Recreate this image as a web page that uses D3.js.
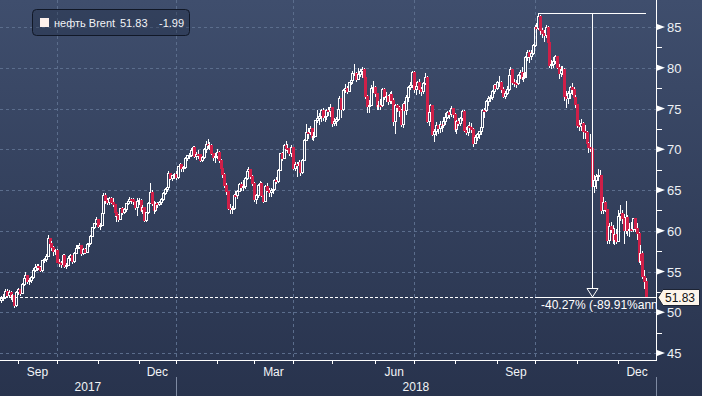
<!DOCTYPE html>
<html>
<head>
<meta charset="utf-8">
<script src="https://cdn.jsdelivr.net/npm/d3@7"></script>
<style>
html, body { margin: 0; padding: 0; background: #2e3b57; }
svg { display: block; font-family: "Liberation Sans", Arial, sans-serif; }
</style>
</head>
<body>
<svg id="chart" width="702" height="396"></svg>
<script>
// Brent daily candles, trading days from 21 Aug 2017 to 24 Dec 2018
var startDate = new Date(2017, 7, 21);
var endDate = new Date(2018, 11, 25);
var holidays = ['2017-12-25', '2018-01-01', '2018-03-30'];

var opens = [
  51.45,51.66,51.87,52.57,52.04,52.41,51.89,52.00,50.86,
  52.38,52.75,52.34,53.38,54.20,54.49,53.78,53.84,54.27,55.16,55.47,55.62,55.48,55.14,56.29,56.43,56.86,59.02,58.44,57.90,57.41,
  57.54,56.12,55.94,55.80,57.00,55.62,55.79,56.61,56.94,56.25,57.17,57.82,58.00,58.15,57.24,57.75,57.37,58.33,58.44,59.30,60.44,60.90,
  61.37,60.49,60.62,62.07,64.27,63.69,63.49,63.93,63.52,63.16,62.21,61.87,61.36,62.72,62.22,62.57,63.32,63.55,63.86,63.84,63.61,62.84,
  63.57,63.73,62.45,62.86,61.22,62.20,63.40,64.69,63.34,62.44,63.31,63.23,63.42,63.80,64.56,65.02,65.25,67.02,66.44,66.72,
  66.87,66.57,67.84,68.07,67.62,67.78,68.82,69.20,69.26,69.87,70.26,69.15,69.38,69.31,68.61,69.03,69.96,70.53,70.42,70.52,69.46,69.02,
  69.05,69.65,68.58,67.62,66.86,65.51,64.81,62.79,62.59,62.72,64.36,64.33,64.84,65.67,65.25,65.42,66.39,67.31,67.50,66.63,
  65.78,63.83,64.37,65.54,65.79,64.34,63.61,65.49,64.95,64.64,64.89,65.12,66.21,66.05,67.42,69.47,68.91,70.45,70.12,70.11,69.53,
  70.27,67.64,68.12,68.02,68.33,67.11,68.65,71.04,72.06,72.02,72.58,71.42,71.58,73.48,73.78,74.06,74.71,73.86,74.00,74.74,74.64,
  75.17,73.13,73.36,73.62,74.87,76.17,74.85,77.21,77.47,77.12,78.23,78.43,79.28,79.30,78.51,79.22,79.57,79.80,78.79,76.44,75.30,75.39,77.50,
  77.59,76.79,75.29,75.38,75.36,77.32,76.46,76.46,75.88,76.74,75.94,73.44,75.34,75.08,74.74,73.05,75.55,74.73,76.31,77.62,77.85,
  79.44,77.30,77.76,78.24,77.39,77.11,78.07,78.86,73.40,74.45,75.33,71.84,72.16,72.90,72.58,73.07,72.89,73.44,73.93,74.54,74.29,74.97,
  74.25,72.39,73.45,73.21,73.75,74.65,72.28,72.07,72.81,72.61,72.46,70.76,71.43,71.83,72.21,72.63,74.78,74.73,75.82,76.21,76.31,77.14,77.77,
  77.42,78.15,78.17,77.27,76.50,76.83,77.37,79.06,79.74,78.18,78.09,78.05,79.03,79.40,78.70,78.80,81.20,81.87,81.34,81.72,
  82.72,84.98,84.80,86.29,84.58,84.16,83.91,85.00,83.09,80.26,80.43,80.78,81.41,80.05,79.29,79.78,79.83,76.44,76.17,76.89,77.62,77.34,76.31,
  75.47,72.89,72.83,73.17,72.13,72.07,70.65,70.18,70.12,65.47,66.12,66.62,66.76,66.79,62.53,63.48,62.60,58.80,60.48,60.21,58.76,59.51,
  58.71,61.69,62.08,61.56,60.06,61.67,59.97,60.20,60.15,61.45,60.28,59.61,56.26,57.24,54.35,53.82
];
var highs = [
  52.0,52.2,52.9,52.8,52.7,52.6,52.3,52.1,52.6,
  53.0,52.9,53.6,54.4,54.9,54.6,54.2,54.5,55.4,55.9,55.9,55.9,55.7,56.4,56.7,57.1,59.5,59.1,58.7,58.1,57.8,
  57.7,56.5,56.3,57.2,57.1,56.1,56.9,57.2,57.0,57.4,58.3,58.2,58.5,58.2,57.9,57.9,58.5,58.8,59.5,60.5,61.0,61.7,
  61.5,60.9,62.3,64.6,64.6,64.0,64.2,64.1,64.0,63.3,62.3,62.1,62.8,62.9,62.8,63.4,63.7,64.1,64.0,64.0,63.7,64.0,
  64.0,63.9,63.1,62.9,62.3,63.5,65.8,65.0,63.6,63.5,63.5,63.7,64.0,64.7,65.2,65.4,67.3,67.1,66.9,67.1,
  67.3,68.0,68.3,68.2,68.0,69.1,69.3,69.6,70.1,70.4,70.4,69.7,69.9,69.4,69.2,70.1,71.0,71.3,70.9,70.7,69.6,69.6,
  70.0,69.8,68.8,67.7,67.1,65.9,64.9,63.3,63.0,64.5,64.9,65.0,65.8,66.0,66.2,66.6,67.4,67.8,67.6,66.8,
  66.0,64.5,65.7,66.1,66.0,64.4,65.6,65.8,65.3,65.2,65.4,66.3,66.6,67.6,69.6,69.7,70.6,71.0,70.6,70.2,70.5,
  70.3,68.4,68.4,68.7,68.4,68.8,71.3,73.1,72.6,72.8,72.6,72.1,73.6,74.8,74.5,75.0,75.1,74.3,75.0,75.2,75.5,
  75.2,73.8,74.0,75.2,76.5,76.2,77.4,78.0,77.8,78.3,79.0,79.6,80.5,79.5,80.0,79.8,80.1,80.0,78.9,76.6,76.0,77.9,78.4,
  77.8,76.9,75.9,76.2,77.5,77.5,77.0,76.7,77.0,77.2,76.3,75.6,75.6,75.3,74.9,75.7,75.9,76.6,77.8,78.2,79.6,
  79.6,78.3,78.4,78.6,77.6,78.3,79.4,79.0,74.9,75.6,75.4,72.5,73.3,73.0,73.5,73.4,73.9,74.4,74.7,74.8,75.3,75.1,
  74.4,73.6,73.8,74.0,74.8,74.8,72.7,73.0,73.3,73.2,72.6,71.7,72.0,72.3,72.9,74.9,75.1,76.0,76.5,76.6,77.3,78.0,78.0,
  78.4,79.0,78.4,77.6,77.2,77.8,79.3,80.1,79.9,78.6,78.5,79.2,79.7,80.1,79.3,81.4,82.2,82.2,82.2,82.9,
  85.2,85.5,86.74,86.5,84.9,84.6,85.3,85.1,83.2,81.0,81.3,81.6,81.5,80.4,80.2,80.2,80.0,77.2,77.2,77.8,78.1,77.6,76.7,
  75.6,73.6,73.7,73.4,73.0,72.3,70.9,71.9,70.7,66.8,67.0,67.6,67.4,66.9,64.2,63.6,62.7,61.0,61.1,60.7,60.3,60.2,
  62.6,63.1,62.5,62.0,63.7,61.9,61.0,61.1,61.6,61.6,61.0,59.8,58.2,57.5,55.2,54.2
];
var lows = [
  51.1,51.4,51.6,51.8,51.7,51.5,51.3,50.5,50.6,
  52.1,52.0,52.2,53.2,54.0,53.5,53.3,53.6,54.1,55.0,55.1,55.2,54.9,54.9,56.0,56.2,56.8,58.0,57.5,56.9,57.0,
  56.0,55.6,55.4,55.7,55.4,55.3,55.7,56.3,55.9,56.1,57.1,57.6,57.7,56.9,57.0,57.1,57.3,58.0,58.3,59.2,60.2,60.7,
  60.3,60.1,60.6,61.9,63.3,63.2,63.1,63.3,62.9,61.7,61.1,61.1,61.3,61.9,62.0,62.3,63.1,63.3,63.3,63.1,62.5,61.8,
  63.2,62.3,62.0,61.1,61.1,62.1,63.3,63.0,62.0,62.3,62.8,63.0,63.2,63.7,64.4,64.8,65.1,66.2,66.1,66.4,
  66.2,66.4,67.6,67.2,67.2,67.6,68.5,68.8,69.0,69.7,68.9,68.7,68.8,68.4,68.4,68.8,69.6,70.0,69.9,69.3,68.5,68.3,
  68.8,68.3,67.4,66.5,65.2,64.4,62.6,62.1,62.0,62.6,63.8,63.9,64.7,64.9,64.9,65.1,66.2,66.9,66.4,65.5,
  63.5,63.3,64.0,65.1,64.1,63.4,63.5,64.7,64.1,64.1,64.5,65.0,65.7,65.8,67.3,68.6,68.8,69.8,69.5,69.2,69.0,
  67.4,67.3,66.6,67.7,66.7,67.0,68.5,71.0,71.2,71.8,71.1,71.0,71.5,73.2,73.0,73.4,73.5,73.4,73.6,74.1,73.9,
  72.7,72.8,72.9,73.5,74.8,73.8,74.7,76.9,76.8,77.0,77.9,78.0,79.0,78.3,78.5,78.9,78.8,78.6,76.2,74.5,74.5,75.3,76.9,
  76.4,74.8,74.8,74.8,75.2,76.0,75.8,75.4,75.5,75.6,72.9,71.9,74.6,74.0,72.7,72.6,73.8,74.2,75.8,77.3,77.5,
  76.9,76.6,77.4,76.8,76.5,76.8,77.9,73.2,72.9,73.9,71.6,70.9,71.6,71.9,72.0,72.1,72.6,73.0,73.7,73.7,74.0,73.8,
  72.1,71.9,72.8,72.8,73.5,72.1,71.7,71.6,72.0,72.0,70.3,70.6,71.0,71.3,71.8,72.4,73.8,74.6,75.3,75.8,76.1,76.8,77.1,
  77.3,77.6,76.9,76.3,76.2,76.6,77.1,78.7,77.9,77.6,77.5,77.9,78.6,78.5,78.2,79.5,80.8,80.6,81.0,81.6,
  82.6,84.3,84.6,84.0,83.6,83.1,83.6,82.8,80.0,79.8,80.0,80.5,79.8,78.6,78.9,79.1,75.9,75.1,75.6,76.2,76.7,75.8,75.1,
  72.6,72.2,72.3,71.2,71.2,70.2,69.5,69.7,65.3,64.6,65.1,66.1,65.9,62.1,62.0,62.3,58.4,58.4,59.7,58.4,58.3,58.4,
  58.7,61.2,60.8,58.4,59.6,59.3,59.2,59.8,59.8,59.9,58.9,56.1,55.8,54.1,52.8,51.8
];
var closes = [
  51.66,51.87,52.57,52.04,52.41,51.89,52.00,50.86,52.38,
  52.75,52.34,53.38,54.20,54.49,53.78,53.84,54.27,55.16,55.47,55.62,55.48,55.14,56.29,56.43,56.86,59.02,58.44,57.90,57.41,57.54,
  56.12,55.94,55.80,57.00,55.62,55.79,56.61,56.94,56.25,57.17,57.82,58.00,58.15,57.24,57.75,57.37,58.33,58.44,59.30,60.44,60.90,61.37,
  60.49,60.62,62.07,64.27,63.69,63.49,63.93,63.52,63.16,62.21,61.87,61.36,62.72,62.22,62.57,63.32,63.55,63.86,63.84,63.61,62.84,63.57,
  63.73,62.45,62.86,61.22,62.20,63.40,64.69,63.34,62.44,63.31,63.23,63.42,63.80,64.56,65.02,65.25,67.02,66.44,66.72,66.87,
  66.57,67.84,68.07,67.62,67.78,68.82,69.20,69.26,69.87,70.26,69.15,69.38,69.31,68.61,69.03,69.96,70.53,70.42,70.52,69.46,69.02,69.05,
  69.65,68.58,67.62,66.86,65.51,64.81,62.79,62.59,62.72,64.36,64.33,64.84,65.67,65.25,65.42,66.39,67.31,67.50,66.63,65.78,
  63.83,64.37,65.54,65.79,64.34,63.61,65.49,64.95,64.64,64.89,65.12,66.21,66.05,67.42,69.47,68.91,70.45,70.12,70.11,69.53,70.27,
  67.64,68.12,68.02,68.33,67.11,68.65,71.04,72.06,72.02,72.58,71.42,71.58,73.48,73.78,74.06,74.71,73.86,74.00,74.74,74.64,75.17,
  73.13,73.36,73.62,74.87,76.17,74.85,77.21,77.47,77.12,78.23,78.43,79.28,79.30,78.51,79.22,79.57,79.80,78.79,76.44,75.30,75.39,77.50,77.59,
  76.79,75.29,75.38,75.36,77.32,76.46,76.46,75.88,76.74,75.94,73.44,75.34,75.08,74.74,73.05,75.55,74.73,76.31,77.62,77.85,79.44,
  77.30,77.76,78.24,77.39,77.11,78.07,78.86,73.40,74.45,75.33,71.84,72.16,72.90,72.58,73.07,72.89,73.44,73.93,74.54,74.29,74.97,74.25,
  72.39,73.45,73.21,73.75,74.65,72.28,72.07,72.81,72.61,72.46,70.76,71.43,71.83,72.21,72.63,74.78,74.73,75.82,76.21,76.31,77.14,77.77,77.42,
  78.15,78.17,77.27,76.50,76.83,77.37,79.06,79.74,78.18,78.09,78.05,79.03,79.40,78.70,78.80,81.20,81.87,81.34,81.72,82.72,
  84.98,84.80,86.29,84.58,84.16,83.91,85.00,83.09,80.26,80.43,80.78,81.41,80.05,79.29,79.78,79.83,76.44,76.17,76.89,77.62,77.34,76.31,75.47,
  72.89,72.83,73.17,72.13,72.07,70.65,70.18,70.12,65.47,66.12,66.62,66.76,66.79,62.53,63.48,62.60,58.80,60.48,60.21,58.76,59.51,58.71,
  61.69,62.08,61.56,60.06,61.67,59.97,60.20,60.15,61.45,60.28,59.61,56.26,57.24,54.35,53.82,51.83
];

var priceTicks = [45, 50, 55, 60, 65, 70, 75, 80, 85];
var minorTicks = [47.5, 52.5, 57.5, 62.5, 67.5, 72.5, 77.5, 82.5];
var seriesName = 'нефть Brent';
var changeText = '-40.27% (-89.91%ann.)';

// trading day calendar
var fmtDay = d3.timeFormat('%Y-%m-%d');
var days = d3.timeDay.range(startDate, endDate)
    .filter(function(d) { return d.getDay() % 6 != 0 && holidays.indexOf(fmtDay(d)) < 0; });

var data = [];
for (var i=0; i<closes.length && i<days.length; i++)
    data.push({i: i, date: days[i], open: opens[i], high: highs[i], low: lows[i], close: closes[i]});
var last = data[data.length-1];

var W = 656, H = 360;
var x = d3.scaleLinear().domain([30, 347]).range([57, 646]);
var y = d3.scaleLinear().domain([45, 85]).range([353, 27]);
var px = function(i) { return Math.round(x(i)); };
var py = function(v) { return Math.round(y(v)) + 0.5; };

var svg = d3.select('#chart');
var defs = svg.append('defs');
var grad = defs.append('linearGradient').attr('id', 'bg')
    .attr('x1', 0).attr('y1', 0).attr('x2', 0).attr('y2', 1);
grad.append('stop').attr('offset', '0%').attr('stop-color', '#3f4e6d');
grad.append('stop').attr('offset', '100%').attr('stop-color', '#28334d');
defs.append('clipPath').attr('id', 'clip')
    .append('rect').attr('width', W).attr('height', H);

svg.append('rect').attr('width', 702).attr('height', 396).attr('fill', 'url(#bg)');

var plot = svg.append('g').attr('clip-path', 'url(#clip)');

// month boundaries
var monthStarts = data.filter(function(d, k) {
    return k > 0 && d.date.getMonth() != data[k-1].date.getMonth();
});

// grid
plot.append('g').selectAll('line').data(priceTicks).join('line')
    .attr('x1', 0).attr('x2', W)
    .attr('y1', function(d) { return py(d); })
    .attr('y2', function(d) { return py(d); })
    .attr('stroke', '#5b6d8c').attr('stroke-dasharray', '3,3');
plot.append('g').selectAll('line')
    .data(monthStarts.filter(function(d) { return d.date.getMonth() % 3 == 0; })).join('line')
    .attr('x1', function(d) { return px(d.i) + 0.5; })
    .attr('x2', function(d) { return px(d.i) + 0.5; })
    .attr('y1', 0).attr('y2', H)
    .attr('stroke', '#5b6d8c').attr('stroke-dasharray', '3,3');

// last price line
plot.append('line')
    .attr('x1', 0).attr('x2', W).attr('y1', py(last.close)).attr('y2', py(last.close))
    .attr('stroke', '#fff').attr('stroke-dasharray', '3,2');

// candles
var red = '#cf1f48';
var up = function(d) { return d.close >= d.open; };
var candle = plot.append('g').attr('shape-rendering', 'crispEdges')
    .selectAll('g').data(data).join('g')
    .attr('transform', function(d) { return 'translate(' + px(d.i) + ',0)'; });
candle.append('line')
    .attr('x1', 0.5).attr('x2', 0.5)
    .attr('y1', function(d) { return y(d.high); })
    .attr('y2', function(d) { return y(Math.max(d.open, d.close)); })
    .attr('stroke', '#fff');
candle.append('line')
    .attr('x1', 0.5).attr('x2', 0.5)
    .attr('y1', function(d) { return y(Math.min(d.open, d.close)); })
    .attr('y2', function(d) { return y(d.low); })
    .attr('stroke', '#fff');
candle.append('rect')
    .attr('x', -0.5).attr('width', 2)
    .attr('y', function(d) { return y(Math.max(d.open, d.close)); })
    .attr('height', function(d) { return Math.max(1, Math.abs(y(d.open) - y(d.close))); })
    .attr('fill', function(d) { return up(d) ? 'none' : red; })
    .attr('stroke', function(d) { return up(d) ? '#fff' : red; });

// peak-to-last measurement
var peak = data.reduce(function(a, b) { return b.high > a.high ? b : a; });
var xm = Math.round((x(peak.i) + x(last.i)) / 2) + 0.5;
var ann = plot.append('g').attr('stroke', '#fff').attr('fill', 'none');
ann.append('line').attr('x1', px(peak.i)).attr('x2', px(last.i))
    .attr('y1', py(peak.high)).attr('y2', py(peak.high));
ann.append('line').attr('x1', px(peak.i)).attr('x2', W)
    .attr('y1', py(last.close)).attr('y2', py(last.close));
ann.append('line').attr('x1', xm).attr('x2', xm)
    .attr('y1', py(peak.high)).attr('y2', py(last.close) - 9);
ann.append('path')
    .attr('d', 'M' + (xm - 5.5) + ',' + (py(last.close) - 9) + 'L' + (xm + 5.5) + ',' + (py(last.close) - 9) +
               'L' + xm + ',' + (py(last.close) - 0.5) + 'Z');
plot.append('text')
    .attr('x', px(peak.i) + 3).attr('y', py(last.close) + 11)
    .attr('font-size', 12).attr('fill', '#fff')
    .text(changeText);

// right axis
var ax = svg.append('g');
ax.append('line').attr('x1', W + 0.5).attr('x2', W + 0.5).attr('y1', 0).attr('y2', H + 1)
    .attr('stroke', '#fff');
ax.selectAll('path.tri').data(priceTicks).join('path')
    .attr('d', function(d) { var v = y(d); return 'M' + (W + 1) + ',' + (v - 3) + 'L' + (W + 9) + ',' + v + 'L' + (W + 1) + ',' + (v + 3) + 'Z'; })
    .attr('fill', '#fff');
ax.selectAll('line.minor').data(minorTicks).join('line')
    .attr('x1', W + 1).attr('x2', W + 6)
    .attr('y1', function(d) { return py(d); }).attr('y2', function(d) { return py(d); })
    .attr('stroke', '#fff');
ax.selectAll('text').data(priceTicks).join('text')
    .attr('x', W + 11).attr('y', function(d) { return y(d) + 5; })
    .attr('font-size', 13).attr('fill', '#eef1f5')
    .text(function(d) { return d; });

// last value tag
var ly = py(last.close);
svg.append('path')
    .attr('d', 'M' + (W + 2) + ',' + ly + 'L' + (W + 7) + ',' + (ly - 8) + 'L' + 699.5 + ',' + (ly - 8) +
               'L' + 699.5 + ',' + (ly + 8) + 'L' + (W + 7) + ',' + (ly + 8) + 'Z')
    .attr('fill', '#fdf5ea').attr('stroke', '#1c2333');
svg.append('text')
    .attr('x', 680).attr('y', ly + 4.5).attr('text-anchor', 'middle')
    .attr('font-size', 12).attr('fill', '#111')
    .text(last.close.toFixed(2));

// bottom axis
var bx = svg.append('g');
bx.append('line').attr('x1', 0).attr('x2', W + 1).attr('y1', H + 0.5).attr('y2', H + 0.5)
    .attr('stroke', '#fff');
bx.selectAll('line.tick').data(monthStarts).join('line')
    .attr('x1', function(d) { return px(d.i) + 0.5; })
    .attr('x2', function(d) { return px(d.i) + 0.5; })
    .attr('y1', H).attr('y2', H + 4)
    .attr('stroke', '#fff');
var fmtMonth = d3.timeFormat('%b');
bx.selectAll('text.month')
    .data(monthStarts.filter(function(d) { return d.date.getMonth() % 3 == 2; })).join('text')
    .attr('x', function(d) {
        var k = monthStarts.indexOf(d);
        var x2 = k + 1 < monthStarts.length ? x(monthStarts[k+1].i) : W;
        return (x(d.i) + x2) / 2;
    })
    .attr('y', H + 16).attr('text-anchor', 'middle')
    .attr('font-size', 12).attr('fill', '#f2f4f7')
    .text(function(d) { return fmtMonth(d.date); });

// years
var yearStart = monthStarts.filter(function(d) { return d.date.getMonth() == 0; })[0];
var years = [{label: '2017', x0: 0, x1: x(yearStart.i)}, {label: '2018', x0: x(yearStart.i), x1: W}];
bx.selectAll('text.year').data(years).join('text')
    .attr('x', function(d) { return (d.x0 + d.x1) / 2; })
    .attr('y', H + 31).attr('text-anchor', 'middle')
    .attr('font-size', 12).attr('fill', '#f2f4f7')
    .text(function(d) { return d.label; });
bx.selectAll('line.sep').data(years).join('line')
    .attr('x1', function(d) { return Math.round(d.x1) + 0.5; })
    .attr('x2', function(d) { return Math.round(d.x1) + 0.5; })
    .attr('y1', H + 17).attr('y2', 396)
    .attr('stroke', '#7e8aa2');

// legend
var prev = data[data.length-2];
var lg = svg.append('g');
lg.append('rect').attr('x', 32.5).attr('y', 9.5).attr('width', 157).attr('height', 26).attr('rx', 4)
    .attr('fill', 'rgba(30,40,62,0.35)').attr('stroke', '#111827');
lg.append('rect').attr('x', 40).attr('y', 18).attr('width', 9).attr('height', 9).attr('fill', '#fdf1ec');
lg.append('text').attr('x', 54).attr('y', 27).attr('font-size', 11).attr('fill', '#f2f4f7')
    .text(seriesName);
lg.append('text').attr('x', 120).attr('y', 27).attr('font-size', 11).attr('fill', '#f2f4f7')
    .text(last.close.toFixed(2));
lg.append('text').attr('x', 159).attr('y', 27).attr('font-size', 11).attr('fill', '#f2f4f7')
    .text((last.close - prev.close).toFixed(2));
</script>
</body>
</html>
